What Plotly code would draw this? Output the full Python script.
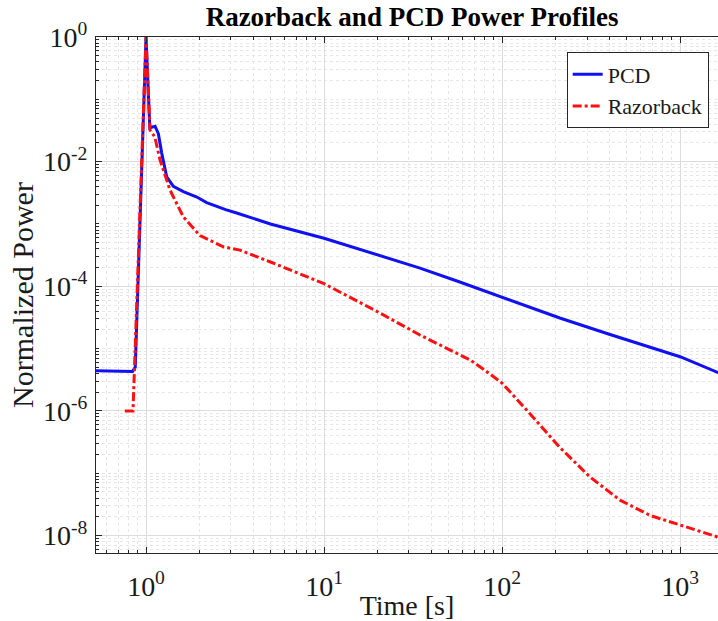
import plotly.graph_objects as go

# ---- data ----
pcd_t = [0.52, 0.6, 0.7, 0.78, 0.84, 0.87, 1.0, 1.05, 1.09, 1.124, 1.173, 1.225, 1.307,
         1.424, 1.62, 1.93, 2.19, 2.5, 2.8, 3.23, 5.0, 10.0, 20.0, 34.6, 57.9, 100.0,
         211.0, 400.0, 1000.0, 1640.0]
pcd_p = [4.4e-6, 4.4e-6, 4.3e-6, 4.4e-6, 4.3e-6, 5.0e-6, 1.0, 0.035, 0.036, 0.037, 0.028,
         0.0137, 0.0057, 0.0040, 0.0033, 0.0027, 0.0022, 0.0019, 0.0017, 0.0015, 1.0e-3,
         5.9e-4, 3.2e-4, 1.96e-4, 1.17e-4, 6.7e-5, 3.1e-5, 1.7e-5, 7.4e-6, 4.1e-6]

rzb_t = [0.76, 0.845, 1.0, 1.053, 1.12, 1.198, 1.364, 1.62, 2.01, 2.72, 3.37, 5.0, 10.0,
         20.0, 34.6, 47.9, 66.0, 80.0, 100.0, 143.0, 211.0, 312.0, 460.0, 680.0, 1000.0,
         1640.0]
rzb_p = [1.0e-6, 1.0e-6, 1.0, 0.032, 0.025, 0.0107, 0.0035, 0.0013, 6.5e-4, 4.3e-4,
         3.8e-4, 2.45e-4, 1.1e-4, 3.9e-5, 1.65e-5, 1.05e-5, 6.6e-6, 4.5e-6, 2.8e-6,
         9.1e-7, 2.6e-7, 8.7e-8, 3.7e-8, 2.1e-8, 1.47e-8, 9.4e-9]

x_tickvals = [1, 10, 100, 1000]
x_ticktext = ["10<sup>0</sup>", "10<sup>1</sup>", "10<sup>2</sup>", "10<sup>3</sup>"]
y_tickvals = [1e-8, 1e-6, 1e-4, 1e-2, 1]
y_ticktext = ["10<sup>-8</sup>", "10<sup>-6</sup>", "10<sup>-4</sup>", "10<sup>-2</sup>", "10<sup>0</sup>"]

x_minor = [m * 10 ** e for e in range(-1, 4) for m in range(2, 10)]
y_minor = [m * 10.0 ** e for e in range(-9, 1) for m in range(1, 10) if not (m == 1 and e % 2 == 0)]

FONT = "Liberation Serif"
INK = "#1a1a1a"

fig = go.Figure()
fig.add_trace(go.Scatter(x=pcd_t, y=pcd_p, mode="lines", name="PCD",
                         line=dict(color="#1010f0", width=3)))
fig.add_trace(go.Scatter(x=rzb_t, y=rzb_p, mode="lines", name="Razorback",
                         line=dict(color="#ff1010", width=3, dash="dashdot")))

axis_common = dict(
    type="log", showline=True, linecolor="#262626", linewidth=1.2,
    ticks="inside", ticklen=6, tickcolor="#262626",
    showgrid=True, gridcolor="#dcdcdc", gridwidth=1,
    tickfont=dict(family=FONT, size=28, color=INK),
    zeroline=False, automargin=False,
)

fig.update_xaxes(
    **axis_common,
    range=[-0.281, 3.213], mirror="ticks",
    tickmode="array", tickvals=x_tickvals, ticktext=x_ticktext,
    ticklabelstandoff=8,
    minor=dict(tickmode="array", tickvals=x_minor, ticks="inside", ticklen=3,
               tickcolor="#262626", showgrid=True, gridcolor="#e6e6e6", griddash="dot"),
    title=dict(text="Time [s]", font=dict(family=FONT, size=28, color=INK), standoff=0),
)
fig.update_yaxes(
    **axis_common,
    range=[-8.28, 0], mirror=False,
    tickmode="array", tickvals=y_tickvals, ticktext=y_ticktext,
    ticklabelstandoff=2,
    minor=dict(tickmode="array", tickvals=y_minor, ticks="inside", ticklen=3,
               tickcolor="#262626", showgrid=True, gridcolor="#e6e6e6", griddash="dot"),
    title=dict(text="Normalized Power", font=dict(family=FONT, size=30, color=INK), standoff=0),
)

fig.update_layout(
    width=718, height=621,
    margin=dict(l=96, r=0, t=37, b=68),
    paper_bgcolor="white", plot_bgcolor="white",
    title=dict(text="<b>Razorback and PCD Power Profiles</b>", x=0.574, xanchor="center",
               y=0.973, yanchor="middle",
               font=dict(family=FONT, size=27, color="black")),
    showlegend=True,
    legend=dict(x=0.985, y=0.97, xanchor="right", yanchor="top",
                bgcolor="white", bordercolor="#262626", borderwidth=1,
                font=dict(family=FONT, size=22, color=INK),
                tracegroupgap=0, itemwidth=30),
)

fig.write_html("out.html")
